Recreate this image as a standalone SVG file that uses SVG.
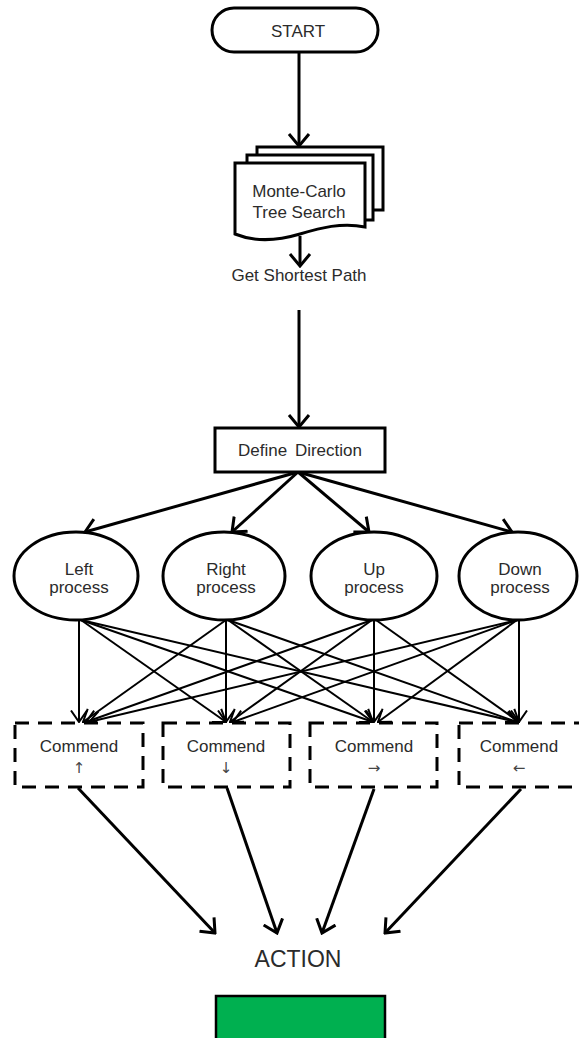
<svg xmlns="http://www.w3.org/2000/svg" width="579" height="1038" viewBox="0 0 579 1038">
  <style>
    .shape { fill: #ffffff; stroke: #000000; stroke-width: 3; }
    .dash { fill: #ffffff; stroke: #000000; stroke-width: 3; stroke-dasharray: 14 9; }
    .txt { font-family: "Liberation Sans", "Noto Sans", sans-serif; font-size: 17px; fill: #2b2b2b; text-anchor: middle; }
    .big { font-size: 23px; }
    .sym { font-family: "DejaVu Sans", "Liberation Sans", sans-serif; font-size: 15px; fill: #444444; }
    .thick { fill: none; stroke: #000000; stroke-width: 3; marker-end: url(#ah); }
    .thin { fill: none; stroke: #000000; stroke-width: 2; marker-end: url(#ahs); }
  </style>
  <defs>
    <marker id="ah" markerUnits="userSpaceOnUse" viewBox="0 0 15 24" refX="13" refY="12" markerWidth="15" markerHeight="24" orient="auto">
      <path d="M1,2 L13,12 L1,22" fill="none" stroke="#000" stroke-width="3"/>
    </marker>
    <marker id="ahs" markerUnits="userSpaceOnUse" viewBox="0 0 14 20" refX="12.5" refY="10" markerWidth="14" markerHeight="20" orient="auto">
      <path d="M1,2 L12.5,10 L1,18" fill="none" stroke="#000" stroke-width="2"/>
    </marker>
  </defs>

  <rect width="579" height="1038" fill="#ffffff"/>

  <g id="connectors">
    <line class="thick" x1="299" y1="53" x2="299" y2="146"/>
    <line class="thick" x1="300" y1="236" x2="300" y2="266"/>
    <line class="thick" x1="299" y1="310" x2="299" y2="427"/>
    <line class="thick" x1="298" y1="472" x2="85" y2="532"/>
    <line class="thick" x1="298" y1="472" x2="232" y2="532"/>
    <line class="thick" x1="298" y1="472" x2="369" y2="532"/>
    <line class="thick" x1="298" y1="472" x2="512" y2="532"/>

    <line class="thin" x1="79" y1="620" x2="79" y2="722"/>
    <line class="thin" x1="81" y1="620" x2="226" y2="722"/>
    <line class="thin" x1="81" y1="620" x2="373" y2="722"/>
    <line class="thin" x1="81" y1="620" x2="517" y2="722"/>

    <line class="thin" x1="226" y1="620" x2="83" y2="722"/>
    <line class="thin" x1="226" y1="620" x2="226" y2="722"/>
    <line class="thin" x1="228" y1="620" x2="373" y2="722"/>
    <line class="thin" x1="228" y1="620" x2="517" y2="722"/>

    <line class="thin" x1="372" y1="620" x2="86" y2="722"/>
    <line class="thin" x1="372" y1="620" x2="230" y2="722"/>
    <line class="thin" x1="374" y1="620" x2="374" y2="722"/>
    <line class="thin" x1="376" y1="620" x2="519" y2="722"/>

    <line class="thin" x1="517" y1="620" x2="89" y2="722"/>
    <line class="thin" x1="517" y1="620" x2="233" y2="722"/>
    <line class="thin" x1="517" y1="620" x2="378" y2="722"/>
    <line class="thin" x1="519" y1="620" x2="519" y2="722"/>

    <line class="thick" x1="78" y1="788" x2="215" y2="933"/>
    <line class="thick" x1="227" y1="788" x2="277" y2="933"/>
    <line class="thick" x1="374" y1="789" x2="322" y2="933"/>
    <line class="thick" x1="521" y1="789" x2="385" y2="933"/>
  </g>

  <g id="start">
    <rect class="shape" x="212" y="8" width="166" height="44" rx="22" ry="22"/>
    <text class="txt" x="298" y="37" font-size="16">START</text>
  </g>

  <g id="mcts">
    <path d="M257,155 V147 H383 V210 H373" fill="none" stroke="#000" stroke-width="3"/>
    <path d="M247,163 V155 H373 V220 H365" fill="none" stroke="#000" stroke-width="3"/>
    <path class="shape" d="M235,163 H365 V227 C342,222 320,228 300,234 C280,240 257,243 235,234 Z"/>
    <text class="txt" x="299" y="197">Monte-Carlo</text>
    <text class="txt" x="299" y="218">Tree Search</text>
  </g>

  <g id="shortest">
    <text class="txt" x="299" y="281">Get Shortest Path</text>
  </g>

  <g id="define">
    <rect class="shape" x="215" y="428" width="170" height="44"/>
    <text class="txt" x="300" y="456" word-spacing="3">Define Direction</text>
  </g>

  <g id="left-process">
    <ellipse class="shape" cx="76" cy="576" rx="62" ry="44"/>
    <text class="txt" x="79" y="575">Left</text>
    <text class="txt" x="79" y="593">process</text>
  </g>
  <g id="right-process">
    <ellipse class="shape" cx="224" cy="576" rx="61" ry="44"/>
    <text class="txt" x="226" y="575">Right</text>
    <text class="txt" x="226" y="593">process</text>
  </g>
  <g id="up-process">
    <ellipse class="shape" cx="374" cy="576" rx="63" ry="44"/>
    <text class="txt" x="374" y="575">Up</text>
    <text class="txt" x="374" y="593">process</text>
  </g>
  <g id="down-process">
    <ellipse class="shape" cx="518" cy="576" rx="59" ry="44"/>
    <text class="txt" x="520" y="575">Down</text>
    <text class="txt" x="520" y="593">process</text>
  </g>

  <g id="cmd-up">
    <rect class="dash" x="15" y="723" width="128" height="64"/>
    <text class="txt" x="79" y="752">Commend</text>
    <text class="txt sym" x="79" y="773">↑</text>
  </g>
  <g id="cmd-down">
    <rect class="dash" x="163" y="723" width="127" height="64"/>
    <text class="txt" x="226" y="752">Commend</text>
    <text class="txt sym" x="226" y="773">↓</text>
  </g>
  <g id="cmd-right">
    <rect class="dash" x="310" y="723" width="127" height="64"/>
    <text class="txt" x="374" y="752">Commend</text>
    <text class="txt sym" x="374" y="773">→</text>
  </g>
  <g id="cmd-left">
    <rect class="dash" x="459" y="723" width="128" height="64"/>
    <text class="txt" x="519" y="752">Commend</text>
    <text class="txt sym" x="519" y="773">←</text>
  </g>

  <g id="action">
    <text class="txt big" x="298" y="967">ACTION</text>
  </g>

  <g id="green-block">
    <rect x="216" y="996" width="169" height="46" fill="#00b050" stroke="#000" stroke-width="2.5"/>
  </g>
</svg>
